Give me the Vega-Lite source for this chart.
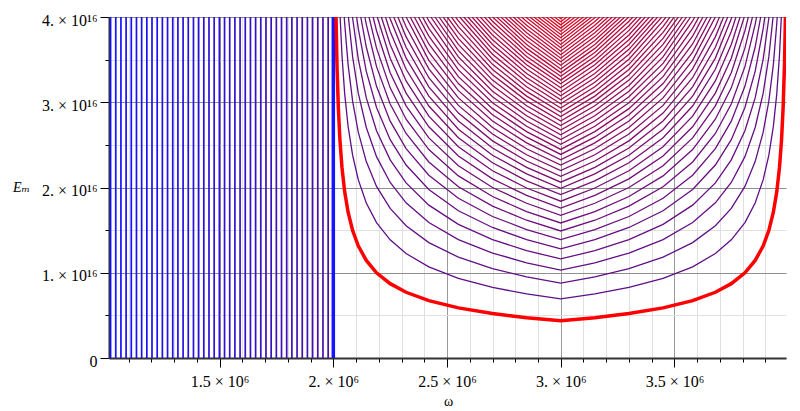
{
"$schema":"https://vega.github.io/schema/vega-lite/v6.json",
"width":677,"height":341,
"autosize":{"type":"none"},
"padding":{"left":109,"top":17,"right":14,"bottom":53},
"background":"white",
"config":{"view":{"stroke":null},"axis":{"labelFont":"Liberation Serif","titleFont":"Liberation Serif","labelColor":"#000","titleColor":"#000","tickColor":"#000","domainColor":"#333","titleFontWeight":"normal"}},
"datasets":{
"vlines":[{"k":0,"w":1.0205e6},{"k":1,"w":1.0433e6},{"k":2,"w":1.0661e6},{"k":3,"w":1.0888e6},{"k":4,"w":1.1116e6},{"k":5,"w":1.1344e6},{"k":6,"w":1.1572e6},{"k":7,"w":1.18e6},{"k":8,"w":1.2027e6},{"k":9,"w":1.2255e6},{"k":10,"w":1.2483e6},{"k":11,"w":1.2711e6},{"k":12,"w":1.2939e6},{"k":13,"w":1.3166e6},{"k":14,"w":1.3394e6},{"k":15,"w":1.3622e6},{"k":16,"w":1.385e6},{"k":17,"w":1.4078e6},{"k":18,"w":1.4305e6},{"k":19,"w":1.4533e6},{"k":20,"w":1.4761e6},{"k":21,"w":1.4989e6},{"k":22,"w":1.5217e6},{"k":23,"w":1.5444e6},{"k":24,"w":1.5672e6},{"k":25,"w":1.59e6},{"k":26,"w":1.6128e6},{"k":27,"w":1.6356e6},{"k":28,"w":1.6583e6},{"k":29,"w":1.6811e6},{"k":30,"w":1.7039e6},{"k":31,"w":1.7267e6},{"k":32,"w":1.7495e6},{"k":33,"w":1.7722e6},{"k":34,"w":1.795e6},{"k":35,"w":1.8178e6},{"k":36,"w":1.8406e6},{"k":37,"w":1.8634e6},{"k":38,"w":1.8861e6},{"k":39,"w":1.9089e6},{"k":40,"w":1.9317e6},{"k":41,"w":1.9545e6},{"k":42,"w":1.9773e6},{"k":43,"w":2.0e6}],
"curves":[
{"n":0,"L":3e6,"R":3e6,"E":0.436e16},{"n":0,"L":2.85e6,"R":3.15e6,"E":0.473e16},{"n":0,"L":2.7e6,"R":3.3e6,"E":0.521e16},{"n":0,"L":2.55e6,"R":3.45e6,"E":0.588e16},{"n":0,"L":2.42e6,"R":3.58e6,"E":0.673e16},{"n":0,"L":2.32e6,"R":3.68e6,"E":0.771e16},{"n":0,"L":2.25e6,"R":3.75e6,"E":0.872e16},{"n":0,"L":2.19e6,"R":3.81e6,"E":1.0e16},{"n":0,"L":2.145e6,"R":3.855e6,"E":1.145e16},{"n":0,"L":2.11e6,"R":3.89e6,"E":1.314e16},{"n":0,"L":2.085e6,"R":3.915e6,"E":1.495e16},{"n":0,"L":2.065e6,"R":3.935e6,"E":1.71e16},{"n":0,"L":2.05e6,"R":3.95e6,"E":1.949e16},{"n":0,"L":2.038e6,"R":3.962e6,"E":2.236e16},{"n":0,"L":2.029e6,"R":3.971e6,"E":2.56e16},{"n":0,"L":2.022e6,"R":3.978e6,"E":2.939e16},{"n":0,"L":2.016e6,"R":3.984e6,"E":3.446e16},{"n":0,"L":2.0119e6,"R":3.9881e6,"E":4e16},
{"n":1,"L":3e6,"R":3e6,"E":0.693e16},{"n":1,"L":2.85e6,"R":3.15e6,"E":0.752e16},{"n":1,"L":2.7e6,"R":3.3e6,"E":0.828e16},{"n":1,"L":2.55e6,"R":3.45e6,"E":0.934e16},{"n":1,"L":2.42e6,"R":3.58e6,"E":1.069e16},{"n":1,"L":2.32e6,"R":3.68e6,"E":1.225e16},{"n":1,"L":2.25e6,"R":3.75e6,"E":1.386e16},{"n":1,"L":2.19e6,"R":3.81e6,"E":1.589e16},{"n":1,"L":2.145e6,"R":3.855e6,"E":1.819e16},{"n":1,"L":2.11e6,"R":3.89e6,"E":2.089e16},{"n":1,"L":2.085e6,"R":3.915e6,"E":2.376e16},{"n":1,"L":2.065e6,"R":3.935e6,"E":2.717e16},{"n":1,"L":2.05e6,"R":3.95e6,"E":3.098e16},{"n":1,"L":2.038e6,"R":3.962e6,"E":3.554e16},{"n":1,"L":2.03e6,"R":3.97e6,"E":4e16},
{"n":2,"L":3e6,"R":3e6,"E":0.878e16},{"n":2,"L":2.85e6,"R":3.15e6,"E":0.952e16},{"n":2,"L":2.7e6,"R":3.3e6,"E":1.049e16},{"n":2,"L":2.55e6,"R":3.45e6,"E":1.183e16},{"n":2,"L":2.42e6,"R":3.58e6,"E":1.354e16},{"n":2,"L":2.32e6,"R":3.68e6,"E":1.551e16},{"n":2,"L":2.25e6,"R":3.75e6,"E":1.755e16},{"n":2,"L":2.19e6,"R":3.81e6,"E":2.013e16},{"n":2,"L":2.145e6,"R":3.855e6,"E":2.304e16},{"n":2,"L":2.11e6,"R":3.89e6,"E":2.646e16},{"n":2,"L":2.085e6,"R":3.915e6,"E":3.01e16},{"n":2,"L":2.065e6,"R":3.935e6,"E":3.442e16},{"n":2,"L":2.05e6,"R":3.95e6,"E":3.924e16},{"n":2,"L":2.0481e6,"R":3.9519e6,"E":4e16},
{"n":3,"L":3e6,"R":3e6,"E":1.03e16},{"n":3,"L":2.85e6,"R":3.15e6,"E":1.117e16},{"n":3,"L":2.7e6,"R":3.3e6,"E":1.231e16},{"n":3,"L":2.55e6,"R":3.45e6,"E":1.388e16},{"n":3,"L":2.42e6,"R":3.58e6,"E":1.589e16},{"n":3,"L":2.32e6,"R":3.68e6,"E":1.82e16},{"n":3,"L":2.25e6,"R":3.75e6,"E":2.059e16},{"n":3,"L":2.19e6,"R":3.81e6,"E":2.362e16},{"n":3,"L":2.145e6,"R":3.855e6,"E":2.704e16},{"n":3,"L":2.11e6,"R":3.89e6,"E":3.104e16},{"n":3,"L":2.085e6,"R":3.915e6,"E":3.532e16},{"n":3,"L":2.0663e6,"R":3.9338e6,"E":4e16},
{"n":4,"L":3e6,"R":3e6,"E":1.162e16},{"n":4,"L":2.85e6,"R":3.15e6,"E":1.26e16},{"n":4,"L":2.7e6,"R":3.3e6,"E":1.389e16},{"n":4,"L":2.55e6,"R":3.45e6,"E":1.567e16},{"n":4,"L":2.42e6,"R":3.58e6,"E":1.793e16},{"n":4,"L":2.32e6,"R":3.68e6,"E":2.054e16},{"n":4,"L":2.25e6,"R":3.75e6,"E":2.324e16},{"n":4,"L":2.19e6,"R":3.81e6,"E":2.666e16},{"n":4,"L":2.145e6,"R":3.855e6,"E":3.051e16},{"n":4,"L":2.11e6,"R":3.89e6,"E":3.503e16},{"n":4,"L":2.085e6,"R":3.915e6,"E":3.985e16},{"n":4,"L":2.0844e6,"R":3.9156e6,"E":4e16},
{"n":5,"L":3e6,"R":3e6,"E":1.281e16},{"n":5,"L":2.85e6,"R":3.15e6,"E":1.389e16},{"n":5,"L":2.7e6,"R":3.3e6,"E":1.531e16},{"n":5,"L":2.55e6,"R":3.45e6,"E":1.727e16},{"n":5,"L":2.42e6,"R":3.58e6,"E":1.976e16},{"n":5,"L":2.32e6,"R":3.68e6,"E":2.264e16},{"n":5,"L":2.25e6,"R":3.75e6,"E":2.561e16},{"n":5,"L":2.19e6,"R":3.81e6,"E":2.938e16},{"n":5,"L":2.145e6,"R":3.855e6,"E":3.363e16},{"n":5,"L":2.11e6,"R":3.89e6,"E":3.861e16},{"n":5,"L":2.1025e6,"R":3.8975e6,"E":4e16},
{"n":6,"L":3e6,"R":3e6,"E":1.389e16},{"n":6,"L":2.85e6,"R":3.15e6,"E":1.507e16},{"n":6,"L":2.7e6,"R":3.3e6,"E":1.66e16},{"n":6,"L":2.55e6,"R":3.45e6,"E":1.873e16},{"n":6,"L":2.42e6,"R":3.58e6,"E":2.144e16},{"n":6,"L":2.32e6,"R":3.68e6,"E":2.456e16},{"n":6,"L":2.25e6,"R":3.75e6,"E":2.778e16},{"n":6,"L":2.19e6,"R":3.81e6,"E":3.187e16},{"n":6,"L":2.145e6,"R":3.855e6,"E":3.648e16},{"n":6,"L":2.1206e6,"R":3.8794e6,"E":4e16},
{"n":7,"L":3e6,"R":3e6,"E":1.49e16},{"n":7,"L":2.85e6,"R":3.15e6,"E":1.616e16},{"n":7,"L":2.7e6,"R":3.3e6,"E":1.781e16},{"n":7,"L":2.55e6,"R":3.45e6,"E":2.009e16},{"n":7,"L":2.42e6,"R":3.58e6,"E":2.299e16},{"n":7,"L":2.32e6,"R":3.68e6,"E":2.634e16},{"n":7,"L":2.25e6,"R":3.75e6,"E":2.98e16},{"n":7,"L":2.19e6,"R":3.81e6,"E":3.418e16},{"n":7,"L":2.145e6,"R":3.855e6,"E":3.913e16},{"n":7,"L":2.1388e6,"R":3.8613e6,"E":4e16},
{"n":8,"L":3e6,"R":3e6,"E":1.584e16},{"n":8,"L":2.85e6,"R":3.15e6,"E":1.718e16},{"n":8,"L":2.7e6,"R":3.3e6,"E":1.894e16},{"n":8,"L":2.55e6,"R":3.45e6,"E":2.136e16},{"n":8,"L":2.42e6,"R":3.58e6,"E":2.445e16},{"n":8,"L":2.32e6,"R":3.68e6,"E":2.801e16},{"n":8,"L":2.25e6,"R":3.75e6,"E":3.169e16},{"n":8,"L":2.19e6,"R":3.81e6,"E":3.635e16},{"n":8,"L":2.1569e6,"R":3.8431e6,"E":4e16},
{"n":9,"L":3e6,"R":3e6,"E":1.673e16},{"n":9,"L":2.85e6,"R":3.15e6,"E":1.815e16},{"n":9,"L":2.7e6,"R":3.3e6,"E":2.0e16},{"n":9,"L":2.55e6,"R":3.45e6,"E":2.256e16},{"n":9,"L":2.42e6,"R":3.58e6,"E":2.582e16},{"n":9,"L":2.32e6,"R":3.68e6,"E":2.958e16},{"n":9,"L":2.25e6,"R":3.75e6,"E":3.347e16},{"n":9,"L":2.19e6,"R":3.81e6,"E":3.839e16},{"n":9,"L":2.175e6,"R":3.825e6,"E":4e16},
{"n":10,"L":3e6,"R":3e6,"E":1.758e16},{"n":10,"L":2.85e6,"R":3.15e6,"E":1.907e16},{"n":10,"L":2.7e6,"R":3.3e6,"E":2.101e16},{"n":10,"L":2.55e6,"R":3.45e6,"E":2.37e16},{"n":10,"L":2.42e6,"R":3.58e6,"E":2.712e16},{"n":10,"L":2.32e6,"R":3.68e6,"E":3.107e16},{"n":10,"L":2.25e6,"R":3.75e6,"E":3.516e16},{"n":10,"L":2.1931e6,"R":3.8069e6,"E":4e16},
{"n":11,"L":3e6,"R":3e6,"E":1.839e16},{"n":11,"L":2.85e6,"R":3.15e6,"E":1.994e16},{"n":11,"L":2.7e6,"R":3.3e6,"E":2.197e16},{"n":11,"L":2.55e6,"R":3.45e6,"E":2.479e16},{"n":11,"L":2.42e6,"R":3.58e6,"E":2.837e16},{"n":11,"L":2.32e6,"R":3.68e6,"E":3.25e16},{"n":11,"L":2.25e6,"R":3.75e6,"E":3.677e16},{"n":11,"L":2.2113e6,"R":3.7888e6,"E":4e16},
{"n":12,"L":3e6,"R":3e6,"E":1.916e16},{"n":12,"L":2.85e6,"R":3.15e6,"E":2.078e16},{"n":12,"L":2.7e6,"R":3.3e6,"E":2.29e16},{"n":12,"L":2.55e6,"R":3.45e6,"E":2.583e16},{"n":12,"L":2.42e6,"R":3.58e6,"E":2.956e16},{"n":12,"L":2.32e6,"R":3.68e6,"E":3.387e16},{"n":12,"L":2.25e6,"R":3.75e6,"E":3.831e16},{"n":12,"L":2.2294e6,"R":3.7706e6,"E":4e16},
{"n":13,"L":3e6,"R":3e6,"E":1.99e16},{"n":13,"L":2.85e6,"R":3.15e6,"E":2.159e16},{"n":13,"L":2.7e6,"R":3.3e6,"E":2.378e16},{"n":13,"L":2.55e6,"R":3.45e6,"E":2.683e16},{"n":13,"L":2.42e6,"R":3.58e6,"E":3.071e16},{"n":13,"L":2.32e6,"R":3.68e6,"E":3.518e16},{"n":13,"L":2.25e6,"R":3.75e6,"E":3.98e16},{"n":13,"L":2.2475e6,"R":3.7525e6,"E":4e16},
{"n":14,"L":3e6,"R":3e6,"E":2.062e16},{"n":14,"L":2.85e6,"R":3.15e6,"E":2.236e16},{"n":14,"L":2.7e6,"R":3.3e6,"E":2.464e16},{"n":14,"L":2.55e6,"R":3.45e6,"E":2.78e16},{"n":14,"L":2.42e6,"R":3.58e6,"E":3.181e16},{"n":14,"L":2.32e6,"R":3.68e6,"E":3.645e16},{"n":14,"L":2.2656e6,"R":3.7344e6,"E":4e16},
{"n":15,"L":3e6,"R":3e6,"E":2.131e16},{"n":15,"L":2.85e6,"R":3.15e6,"E":2.311e16},{"n":15,"L":2.7e6,"R":3.3e6,"E":2.547e16},{"n":15,"L":2.55e6,"R":3.45e6,"E":2.873e16},{"n":15,"L":2.42e6,"R":3.58e6,"E":3.288e16},{"n":15,"L":2.32e6,"R":3.68e6,"E":3.767e16},{"n":15,"L":2.2838e6,"R":3.7163e6,"E":4e16},
{"n":16,"L":3e6,"R":3e6,"E":2.198e16},{"n":16,"L":2.85e6,"R":3.15e6,"E":2.384e16},{"n":16,"L":2.7e6,"R":3.3e6,"E":2.627e16},{"n":16,"L":2.55e6,"R":3.45e6,"E":2.963e16},{"n":16,"L":2.42e6,"R":3.58e6,"E":3.391e16},{"n":16,"L":2.32e6,"R":3.68e6,"E":3.885e16},{"n":16,"L":2.3019e6,"R":3.6981e6,"E":4e16},
{"n":17,"L":3e6,"R":3e6,"E":2.263e16},{"n":17,"L":2.85e6,"R":3.15e6,"E":2.454e16},{"n":17,"L":2.7e6,"R":3.3e6,"E":2.704e16},{"n":17,"L":2.55e6,"R":3.45e6,"E":3.051e16},{"n":17,"L":2.42e6,"R":3.58e6,"E":3.491e16},{"n":17,"L":2.32e6,"R":3.68e6,"E":4e16},
{"n":18,"L":3e6,"R":3e6,"E":2.326e16},{"n":18,"L":2.85e6,"R":3.15e6,"E":2.523e16},{"n":18,"L":2.7e6,"R":3.3e6,"E":2.78e16},{"n":18,"L":2.55e6,"R":3.45e6,"E":3.136e16},{"n":18,"L":2.42e6,"R":3.58e6,"E":3.589e16},{"n":18,"L":2.3381e6,"R":3.6619e6,"E":4e16},
{"n":19,"L":3e6,"R":3e6,"E":2.388e16},{"n":19,"L":2.85e6,"R":3.15e6,"E":2.59e16},{"n":19,"L":2.7e6,"R":3.3e6,"E":2.854e16},{"n":19,"L":2.55e6,"R":3.45e6,"E":3.219e16},{"n":19,"L":2.42e6,"R":3.58e6,"E":3.684e16},{"n":19,"L":2.3563e6,"R":3.6438e6,"E":4e16},
{"n":20,"L":3e6,"R":3e6,"E":2.447e16},{"n":20,"L":2.85e6,"R":3.15e6,"E":2.655e16},{"n":20,"L":2.7e6,"R":3.3e6,"E":2.925e16},{"n":20,"L":2.55e6,"R":3.45e6,"E":3.3e16},{"n":20,"L":2.42e6,"R":3.58e6,"E":3.776e16},{"n":20,"L":2.3744e6,"R":3.6256e6,"E":4e16},
{"n":21,"L":3e6,"R":3e6,"E":2.506e16},{"n":21,"L":2.85e6,"R":3.15e6,"E":2.718e16},{"n":21,"L":2.7e6,"R":3.3e6,"E":2.995e16},{"n":21,"L":2.55e6,"R":3.45e6,"E":3.379e16},{"n":21,"L":2.42e6,"R":3.58e6,"E":3.867e16},{"n":21,"L":2.3925e6,"R":3.6075e6,"E":4e16},
{"n":22,"L":3e6,"R":3e6,"E":2.563e16},{"n":22,"L":2.85e6,"R":3.15e6,"E":2.78e16},{"n":22,"L":2.7e6,"R":3.3e6,"E":3.064e16},{"n":22,"L":2.55e6,"R":3.45e6,"E":3.456e16},{"n":22,"L":2.42e6,"R":3.58e6,"E":3.955e16},{"n":22,"L":2.4106e6,"R":3.5894e6,"E":4e16},
{"n":23,"L":3e6,"R":3e6,"E":2.619e16},{"n":23,"L":2.85e6,"R":3.15e6,"E":2.841e16},{"n":23,"L":2.7e6,"R":3.3e6,"E":3.13e16},{"n":23,"L":2.55e6,"R":3.45e6,"E":3.532e16},{"n":23,"L":2.4288e6,"R":3.5713e6,"E":4e16},
{"n":24,"L":3e6,"R":3e6,"E":2.674e16},{"n":24,"L":2.85e6,"R":3.15e6,"E":2.9e16},{"n":24,"L":2.7e6,"R":3.3e6,"E":3.196e16},{"n":24,"L":2.55e6,"R":3.45e6,"E":3.606e16},{"n":24,"L":2.4469e6,"R":3.5531e6,"E":4e16},
{"n":25,"L":3e6,"R":3e6,"E":2.728e16},{"n":25,"L":2.85e6,"R":3.15e6,"E":2.959e16},{"n":25,"L":2.7e6,"R":3.3e6,"E":3.26e16},{"n":25,"L":2.55e6,"R":3.45e6,"E":3.678e16},{"n":25,"L":2.465e6,"R":3.535e6,"E":4e16},
{"n":26,"L":3e6,"R":3e6,"E":2.78e16},{"n":26,"L":2.85e6,"R":3.15e6,"E":3.016e16},{"n":26,"L":2.7e6,"R":3.3e6,"E":3.323e16},{"n":26,"L":2.55e6,"R":3.45e6,"E":3.749e16},{"n":26,"L":2.4831e6,"R":3.5169e6,"E":4e16},
{"n":27,"L":3e6,"R":3e6,"E":2.832e16},{"n":27,"L":2.85e6,"R":3.15e6,"E":3.072e16},{"n":27,"L":2.7e6,"R":3.3e6,"E":3.385e16},{"n":27,"L":2.55e6,"R":3.45e6,"E":3.819e16},{"n":27,"L":2.5013e6,"R":3.4988e6,"E":4e16},
{"n":28,"L":3e6,"R":3e6,"E":2.883e16},{"n":28,"L":2.85e6,"R":3.15e6,"E":3.127e16},{"n":28,"L":2.7e6,"R":3.3e6,"E":3.445e16},{"n":28,"L":2.55e6,"R":3.45e6,"E":3.887e16},{"n":28,"L":2.5194e6,"R":3.4806e6,"E":4e16},
{"n":29,"L":3e6,"R":3e6,"E":2.933e16},{"n":29,"L":2.85e6,"R":3.15e6,"E":3.181e16},{"n":29,"L":2.7e6,"R":3.3e6,"E":3.505e16},{"n":29,"L":2.55e6,"R":3.45e6,"E":3.954e16},{"n":29,"L":2.5375e6,"R":3.4625e6,"E":4e16},
{"n":30,"L":3e6,"R":3e6,"E":2.982e16},{"n":30,"L":2.85e6,"R":3.15e6,"E":3.234e16},{"n":30,"L":2.7e6,"R":3.3e6,"E":3.564e16},{"n":30,"L":2.5556e6,"R":3.4444e6,"E":4e16},
{"n":31,"L":3e6,"R":3e6,"E":3.03e16},{"n":31,"L":2.85e6,"R":3.15e6,"E":3.287e16},{"n":31,"L":2.7e6,"R":3.3e6,"E":3.621e16},{"n":31,"L":2.5738e6,"R":3.4263e6,"E":4e16},
{"n":32,"L":3e6,"R":3e6,"E":3.077e16},{"n":32,"L":2.85e6,"R":3.15e6,"E":3.338e16},{"n":32,"L":2.7e6,"R":3.3e6,"E":3.678e16},{"n":32,"L":2.5919e6,"R":3.4081e6,"E":4e16},
{"n":33,"L":3e6,"R":3e6,"E":3.124e16},{"n":33,"L":2.85e6,"R":3.15e6,"E":3.389e16},{"n":33,"L":2.7e6,"R":3.3e6,"E":3.734e16},{"n":33,"L":2.61e6,"R":3.39e6,"E":4e16},
{"n":34,"L":3e6,"R":3e6,"E":3.17e16},{"n":34,"L":2.85e6,"R":3.15e6,"E":3.439e16},{"n":34,"L":2.7e6,"R":3.3e6,"E":3.789e16},{"n":34,"L":2.6281e6,"R":3.3719e6,"E":4e16},
{"n":35,"L":3e6,"R":3e6,"E":3.216e16},{"n":35,"L":2.85e6,"R":3.15e6,"E":3.488e16},{"n":35,"L":2.7e6,"R":3.3e6,"E":3.843e16},{"n":35,"L":2.6463e6,"R":3.3538e6,"E":4e16},
{"n":36,"L":3e6,"R":3e6,"E":3.26e16},{"n":36,"L":2.85e6,"R":3.15e6,"E":3.537e16},{"n":36,"L":2.7e6,"R":3.3e6,"E":3.897e16},{"n":36,"L":2.6644e6,"R":3.3356e6,"E":4e16},
{"n":37,"L":3e6,"R":3e6,"E":3.305e16},{"n":37,"L":2.85e6,"R":3.15e6,"E":3.584e16},{"n":37,"L":2.7e6,"R":3.3e6,"E":3.95e16},{"n":37,"L":2.6825e6,"R":3.3175e6,"E":4e16},
{"n":38,"L":3e6,"R":3e6,"E":3.348e16},{"n":38,"L":2.85e6,"R":3.15e6,"E":3.632e16},{"n":38,"L":2.7006e6,"R":3.2994e6,"E":4e16},
{"n":39,"L":3e6,"R":3e6,"E":3.391e16},{"n":39,"L":2.85e6,"R":3.15e6,"E":3.678e16},{"n":39,"L":2.7188e6,"R":3.2813e6,"E":4e16},
{"n":40,"L":3e6,"R":3e6,"E":3.434e16},{"n":40,"L":2.85e6,"R":3.15e6,"E":3.725e16},{"n":40,"L":2.7369e6,"R":3.2631e6,"E":4e16},
{"n":41,"L":3e6,"R":3e6,"E":3.476e16},{"n":41,"L":2.85e6,"R":3.15e6,"E":3.77e16},{"n":41,"L":2.755e6,"R":3.245e6,"E":4e16},
{"n":42,"L":3e6,"R":3e6,"E":3.517e16},{"n":42,"L":2.85e6,"R":3.15e6,"E":3.815e16},{"n":42,"L":2.7731e6,"R":3.2269e6,"E":4e16},
{"n":43,"L":3e6,"R":3e6,"E":3.558e16},{"n":43,"L":2.85e6,"R":3.15e6,"E":3.859e16},{"n":43,"L":2.7913e6,"R":3.2088e6,"E":4e16},
{"n":44,"L":3e6,"R":3e6,"E":3.599e16},{"n":44,"L":2.85e6,"R":3.15e6,"E":3.903e16},{"n":44,"L":2.8094e6,"R":3.1906e6,"E":4e16},
{"n":45,"L":3e6,"R":3e6,"E":3.639e16},{"n":45,"L":2.85e6,"R":3.15e6,"E":3.947e16},{"n":45,"L":2.8275e6,"R":3.1725e6,"E":4e16},
{"n":46,"L":3e6,"R":3e6,"E":3.678e16},{"n":46,"L":2.85e6,"R":3.15e6,"E":3.99e16},{"n":46,"L":2.8456e6,"R":3.1544e6,"E":4e16},
{"n":47,"L":3e6,"R":3e6,"E":3.718e16},{"n":47,"L":2.8638e6,"R":3.1363e6,"E":4e16},
{"n":48,"L":3e6,"R":3e6,"E":3.756e16},{"n":48,"L":2.8819e6,"R":3.1181e6,"E":4e16},
{"n":49,"L":3e6,"R":3e6,"E":3.795e16},{"n":49,"L":2.9e6,"R":3.1e6,"E":4e16},
{"n":50,"L":3e6,"R":3e6,"E":3.833e16},{"n":50,"L":2.9181e6,"R":3.0819e6,"E":4e16},
{"n":51,"L":3e6,"R":3e6,"E":3.87e16},{"n":51,"L":2.9363e6,"R":3.0638e6,"E":4e16},
{"n":52,"L":3e6,"R":3e6,"E":3.908e16},{"n":52,"L":2.9544e6,"R":3.0456e6,"E":4e16},
{"n":53,"L":3e6,"R":3e6,"E":3.945e16},{"n":53,"L":2.9725e6,"R":3.0275e6,"E":4e16},
{"n":54,"L":3e6,"R":3e6,"E":3.981e16},{"n":54,"L":2.9906e6,"R":3.0094e6,"E":4e16}
]},
"resolve":{"scale":{"color":"independent"},"axis":{"x":"independent","y":"independent"}},
"layer":[
{"data":{"name":"vlines"},
 "mark":{"type":"rule","strokeWidth":1.7},
 "encoding":{
  "x":{"field":"w","type":"quantitative","scale":{"domain":[1013600,3990600],"nice":false,"zero":false},
   "axis":{"orient":"bottom","values":[1.1e6,1.2e6,1.3e6,1.4e6,1.5e6,1.6e6,1.7e6,1.8e6,1.9e6,2.0e6,2.1e6,2.2e6,2.3e6,2.4e6,2.5e6,2.6e6,2.7e6,2.8e6,2.9e6,3.0e6,3.1e6,3.2e6,3.3e6,3.4e6,3.5e6,3.6e6,3.7e6,3.8e6,3.9e6],"labels":false,"tickSize":4,"domain":false,"grid":true,"gridColor":"#e0e0e0","gridWidth":1,"title":null}},
  "color":{"field":"k","type":"quantitative","scale":{"domain":[0,43],"range":["#1212ff","#4a12a2"],"interpolate":"rgb"},"legend":null}
 }},
{"data":{"name":"curves"},
 "transform":[{"filter":"datum.n > 0"},{"fold":["L","R"],"as":["side","w"]}],
 "mark":{"type":"line","strokeWidth":1.3,"clip":true},
 "encoding":{
  "x":{"field":"w","type":"quantitative","scale":{"domain":[1013600,3990600],"nice":false,"zero":false},
   "axis":{"orient":"bottom","values":[1.5e6,2e6,2.5e6,3e6,3.5e6],"tickSize":9,"labelFontSize":16,"labelBaseline":"top","labelPadding":6,
    "labelExpr":"(datum.value % 1000000 == 0 ? format(datum.value/1000000,'d') + '.' : format(datum.value/1000000,'.1f')) + ' × 10⁶'",
    "grid":true,"gridColor":"#9a9a9a","domain":true,"domainWidth":2,"title":"ω","titleFontSize":14,"titleX":339,"titleY":47,"titleBaseline":"alphabetic","titleAlign":"center"}},
  "y":{"field":"E","type":"quantitative","scale":{"domain":[0,4e16],"nice":false,"zero":true},
   "axis":{"orient":"left","values":[0.5e16,1.5e16,2.5e16,3.5e16],"labels":false,"tickSize":4,"domain":false,"grid":true,"gridColor":"#e0e0e0","title":null}},
  "detail":{"field":"n","type":"nominal"},
  "color":{"field":"n","type":"quantitative","scale":{"domain":[1,54],"range":["#5e0f88","#e3061f"],"interpolate":"rgb"},"legend":null}
 }},
{"data":{"values":[{"w":2000000}]},
 "mark":{"type":"rule","strokeWidth":3.5,"color":"#1414ff"},
 "encoding":{
  "x":{"field":"w","type":"quantitative","scale":{"domain":[1013600,3990600],"nice":false,"zero":false},"axis":null}
 }},
{"data":{"name":"curves"},
 "transform":[{"filter":"datum.n == 0"},{"fold":["L","R"],"as":["side","w"]}],
 "mark":{"type":"line","strokeWidth":3.5,"color":"#ff0000","clip":true},
 "encoding":{
  "x":{"field":"w","type":"quantitative","scale":{"domain":[1013600,3990600],"nice":false,"zero":false},"axis":null},
  "y":{"field":"E","type":"quantitative","scale":{"domain":[0,4e16],"nice":false,"zero":true},
   "axis":{"orient":"left","values":[0,1e16,2e16,3e16,4e16],"tickSize":9,"labelFontSize":16,"labelPadding":3,"labelOffset":3,
    "labelExpr":"datum.value == 0 ? '0' : format(datum.value/1e16,'d') + '. × 10¹⁶'",
    "grid":true,"gridColor":"#8f8f8f","domain":true,"domainWidth":2,
    "title":"Eₘ","titleFont":"Liberation Serif, DejaVu Serif","titleFontStyle":"italic","titleFontSize":14,"titleAngle":0,"titleX":-88,"titleY":170,"titleAlign":"center","titleBaseline":"middle"}}
 }}
]
}
